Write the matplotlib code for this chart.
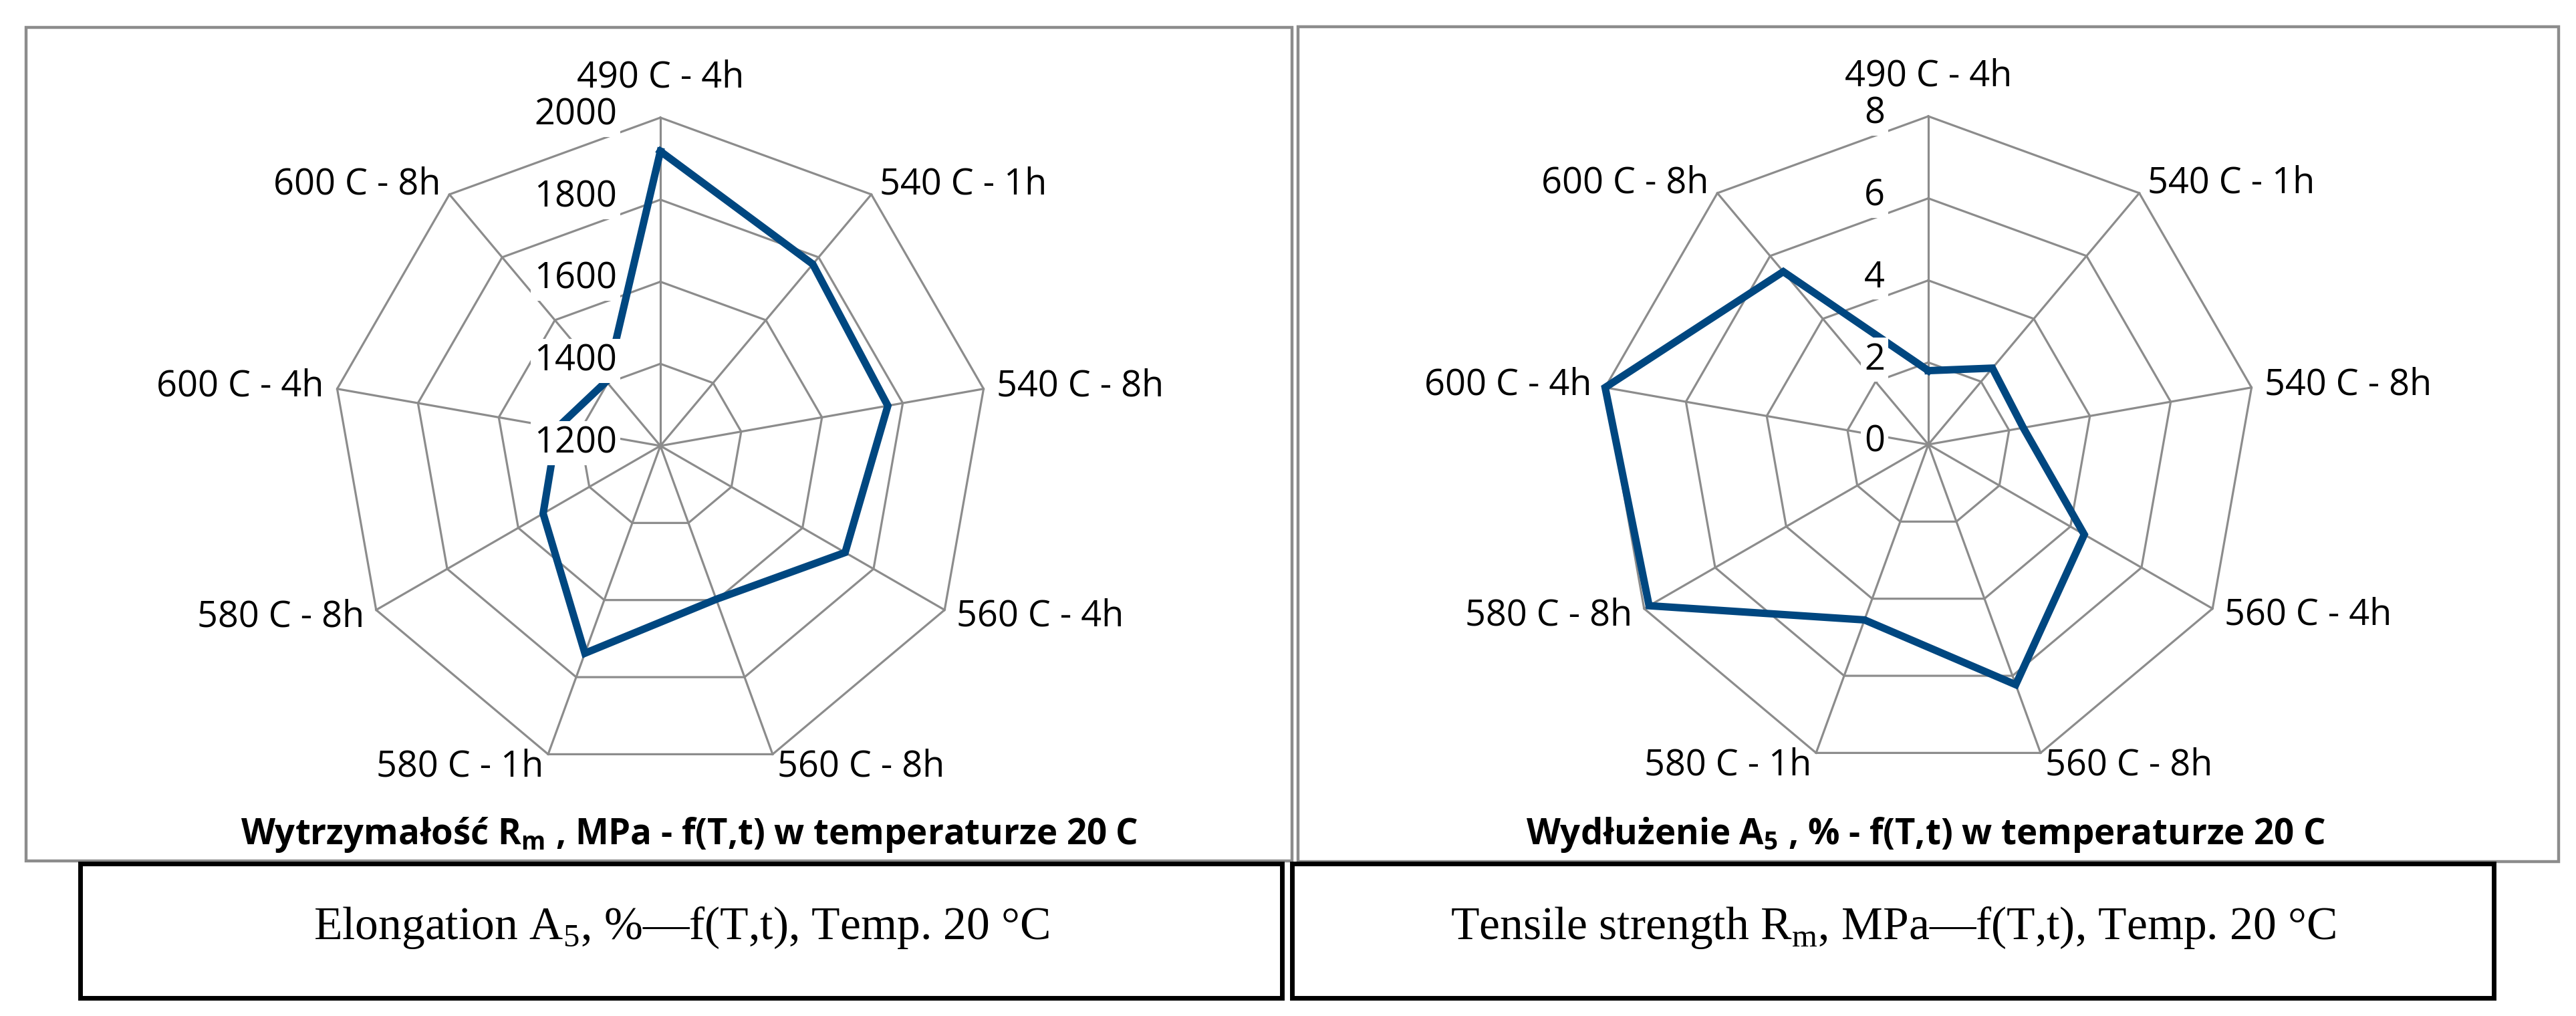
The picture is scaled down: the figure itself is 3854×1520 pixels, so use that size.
import numpy as np
import matplotlib
matplotlib.use("Agg")
import matplotlib.pyplot as plt
from matplotlib.patches import Rectangle

plt.rcParams['font.family'] = ['Open Sans', 'DejaVu Sans']
plt.rcParams['mathtext.fontset'] = 'custom'
plt.rcParams['mathtext.rm'] = 'Liberation Serif'
plt.rcParams['mathtext.bf'] = 'Open Sans:bold'

# data (clockwise from the top)
categories = ["490 C - 4h", "540 C - 1h", "540 C - 8h", "560 C - 4h", "560 C - 8h",
              "580 C - 1h", "580 C - 8h", "600 C - 4h", "600 C - 8h"]
rm_values = [1918, 1778, 1763, 1720, 1598, 1738, 1530, 1455, 1405]
a5_values = [1.8, 2.43, 2.35, 4.39, 6.23, 4.55, 7.86, 8.0, 5.5]
rm_ticks = [1200, 1400, 1600, 1800, 2000]
a5_ticks = [0, 2, 4, 6, 8]

rm_title = "Wytrzymałość R$_\\mathbf{m}$ , MPa - f(T,t) w temperaturze 20 C"
a5_title = "Wydłużenie A$_\\mathbf{5}$ , % - f(T,t) w temperaturze 20 C"
left_caption = "Elongation A$_\\mathrm{5}$, %—f(T,t), Temp. 20 °C"
right_caption = "Tensile strength R$_\\mathrm{m}$, MPa—f(T,t), Temp. 20 °C"

W, H, DPI = 3855, 1520, 100
GRID = '#8c8c8c'
LINE = '#004780'

fig = plt.figure(figsize=(W / DPI, H / DPI), dpi=DPI)


def box(x0, y0, x1, y1, color, lw):
    # pixel coords, origin top-left
    fig.add_artist(Rectangle((x0 / W, 1 - y1 / H), (x1 - x0) / W, (y1 - y0) / H,
                             transform=fig.transFigure, fill=False,
                             edgecolor=color, linewidth=lw))


def radar(cx, cy, R, values, ticks, title, title_x):
    ax = fig.add_axes([(cx - R) / W, 1 - (cy + R) / H, 2 * R / W, 2 * R / H],
                      projection='polar')
    ax.set_theta_zero_location('N')
    ax.set_theta_direction(-1)
    ax.set_ylim(ticks[0], ticks[-1])
    ax.axis('off')

    n = len(categories)
    theta = np.arange(n) * 2 * np.pi / n
    closed = np.append(theta, theta[0])

    for t in ticks[1:]:
        ax.plot(closed, [t] * (n + 1), color=GRID, lw=2.3, zorder=1, clip_on=False)
    for th in theta:
        ax.plot([th, th], [ticks[0], ticks[-1]], color=GRID, lw=2.3, zorder=1, clip_on=False)

    ax.plot(closed, np.append(values, values[0]), color=LINE, lw=8, zorder=2,
            solid_joinstyle='miter', clip_on=False)

    for th, lab in zip(theta, categories):
        s, c = np.sin(th), np.cos(th)
        if abs(s) < 1e-6:
            ha, d = 'center', 60
        else:
            ha, d = ('left' if s > 0 else 'right'), 20
        ax.annotate(lab, (th, ticks[-1]), xytext=(d * s, d * c),
                    textcoords='offset pixels', ha=ha, va='center',
                    fontsize=39, annotation_clip=False)

    for t in ticks:
        ax.annotate(str(t), (0, t), xytext=(-65, 4), textcoords='offset pixels',
                    ha='right', va='center', fontsize=39, zorder=5,
                    annotation_clip=False,
                    bbox=dict(boxstyle='square,pad=0.1', fc='white', ec='none'))

    fig.text(title_x / W, 1 - 1263 / H, title, ha='center', va='baseline',
             fontsize=38, fontweight='bold')


# chart frames
box(39, 41, 1933, 1288, GRID, 3.2)
box(1942, 40, 3828, 1289, GRID, 3.2)

radar(988, 667, 491, rm_values, rm_ticks, rm_title, 1031)
radar(2885, 665, 491, a5_values, a5_ticks, a5_title, 2881)

# caption boxes
box(120, 1292, 1918, 1493, 'black', 5)
box(1933, 1292, 3731, 1493, 'black', 5)
fig.text(1019 / W, 1 - 1405 / H, left_caption, ha='center', va='baseline',
         fontsize=50, family='Liberation Serif')
fig.text(2832 / W, 1 - 1405 / H, right_caption, ha='center', va='baseline',
         fontsize=50, family='Liberation Serif')

fig.savefig('out.png', dpi=DPI)
